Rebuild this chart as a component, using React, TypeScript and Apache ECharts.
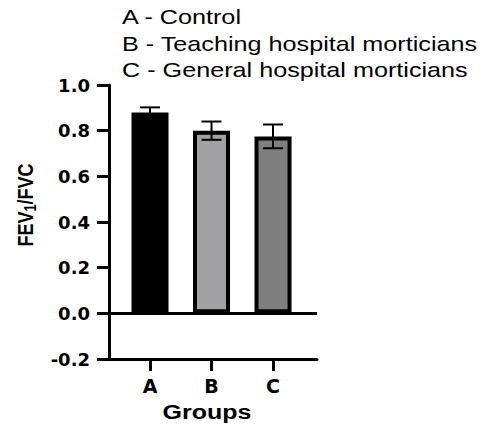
import React, { useEffect, useRef } from "react";
import * as echarts from "echarts";

const categories = ["A", "B", "C"];
const means = [0.88, 0.8, 0.775];
const errors = [0.022, 0.04, 0.052];
const barColors = ["#000000", "#a2a2a6", "#7f7f7f"];
const legendLines = [
  "A - Control",
  "B - Teaching hospital morticians",
  "C - General hospital morticians",
];
const yMin = -0.2;
const yMax = 1.0;
const yStep = 0.2;

export default function App() {
  const ref = useRef<HTMLDivElement>(null);
  useEffect(() => {
    document.body.style.margin = "0";
    const chart = echarts.init(ref.current!, null, { renderer: "svg" });
    const tickFont = "DejaVu Sans";
    const option: any = {
      animation: false,
      backgroundColor: "#ffffff",
      grid: { left: 109, right: 164, top: 85, bottom: 66, containLabel: false },
      xAxis: {
        type: "value",
        min: -0.667,
        max: 2.715,
        axisLine: { show: true, onZero: false, lineStyle: { color: "#000", width: 3 } },
        axisTick: { show: true, customValues: [0, 1, 2], length: 12, lineStyle: { color: "#000", width: 3 } },
        axisLabel: {
          customValues: [0, 1, 2],
          formatter: (v: number) => categories[Math.round(v)] ?? "",
          color: "#000",
          fontFamily: tickFont,
          fontWeight: "bold",
          fontSize: 19,
          margin: 17,
        },
        splitLine: { show: false },
      },
      yAxis: {
        type: "value",
        min: yMin,
        max: yMax,
        interval: yStep,
        axisLine: { show: true, onZero: false, lineStyle: { color: "#000", width: 3 } },
        axisTick: { show: true, length: 12, lineStyle: { color: "#000", width: 3 } },
        axisLabel: {
          formatter: (v: number) => v.toFixed(1),
          color: "#000",
          fontFamily: tickFont,
          fontWeight: "bold",
          fontSize: 18,
          margin: 19,
        },
        splitLine: { show: false },
      },
      series: [
        {
          type: "bar",
          barWidth: 37,
          data: means.map((m, i) => ({
            value: [i, m],
            itemStyle: { color: barColors[i], borderColor: "#000", borderWidth: 4 },
          })),
          markLine: {
            silent: true,
            symbol: ["none", "none"],
            label: { show: false },
            lineStyle: { color: "#000", width: 3, type: "solid" },
            data: [{ yAxis: 0 }],
          },
          z: 2,
        },
        {
          type: "custom",
          z: 3,
          data: means.map((m, i) => [i, m, errors[i]]),
          renderItem: (params: any, api: any) => {
            const x = api.value(0);
            const m = api.value(1);
            const e = api.value(2);
            const top = api.coord([x, m + e]);
            const bot = api.coord([x, m - e]);
            const half = 10;
            const st = { stroke: "#000", lineWidth: 2 };
            return {
              type: "group",
              children: [
                { type: "line", shape: { x1: top[0], y1: top[1], x2: bot[0], y2: bot[1] }, style: st },
                { type: "line", shape: { x1: top[0] - half, y1: top[1], x2: top[0] + half, y2: top[1] }, style: st },
                { type: "line", shape: { x1: bot[0] - half, y1: bot[1], x2: bot[0] + half, y2: bot[1] }, style: st },
              ],
            };
          },
        },
      ],
      graphic: [
        ...legendLines.map((t, i) => ({
          type: "text",
          x: 122,
          y: [17, 43.5, 70][i],
          scaleX: 1.26,
          style: {
            text: t,
            fill: "#000",
            font: "20px 'Liberation Sans', Arial, sans-serif",
            textAlign: "left",
            textVerticalAlign: "middle",
          },
        })),
        {
          type: "text",
          x: 207,
          y: 412,
          scaleX: 1.25,
          style: {
            text: "Groups",
            fill: "#000",
            font: "bold 20px 'Liberation Sans', Arial, sans-serif",
            textAlign: "center",
            textVerticalAlign: "middle",
          },
        },
        {
          type: "text",
          x: 25,
          y: 205,
          rotation: Math.PI / 2,
          scaleY: 1.25,
          style: {
            text: "FEV{s|1}/FVC",
            fill: "#000",
            fontFamily: "'Liberation Sans', Arial, sans-serif",
            fontWeight: "bold",
            fontSize: 18,
            textAlign: "center",
            textVerticalAlign: "middle",
            rich: {
              s: {
                fontFamily: "'Liberation Sans', Arial, sans-serif",
                fontWeight: "bold",
                fontSize: 13,
                padding: [9, 0, 0, 0],
                fill: "#000",
              },
            },
          },
        },
      ],
    };
    chart.setOption(option);
    return () => chart.dispose();
  }, []);
  return <div ref={ref} style={{ width: 481, height: 425 }} />;
}
